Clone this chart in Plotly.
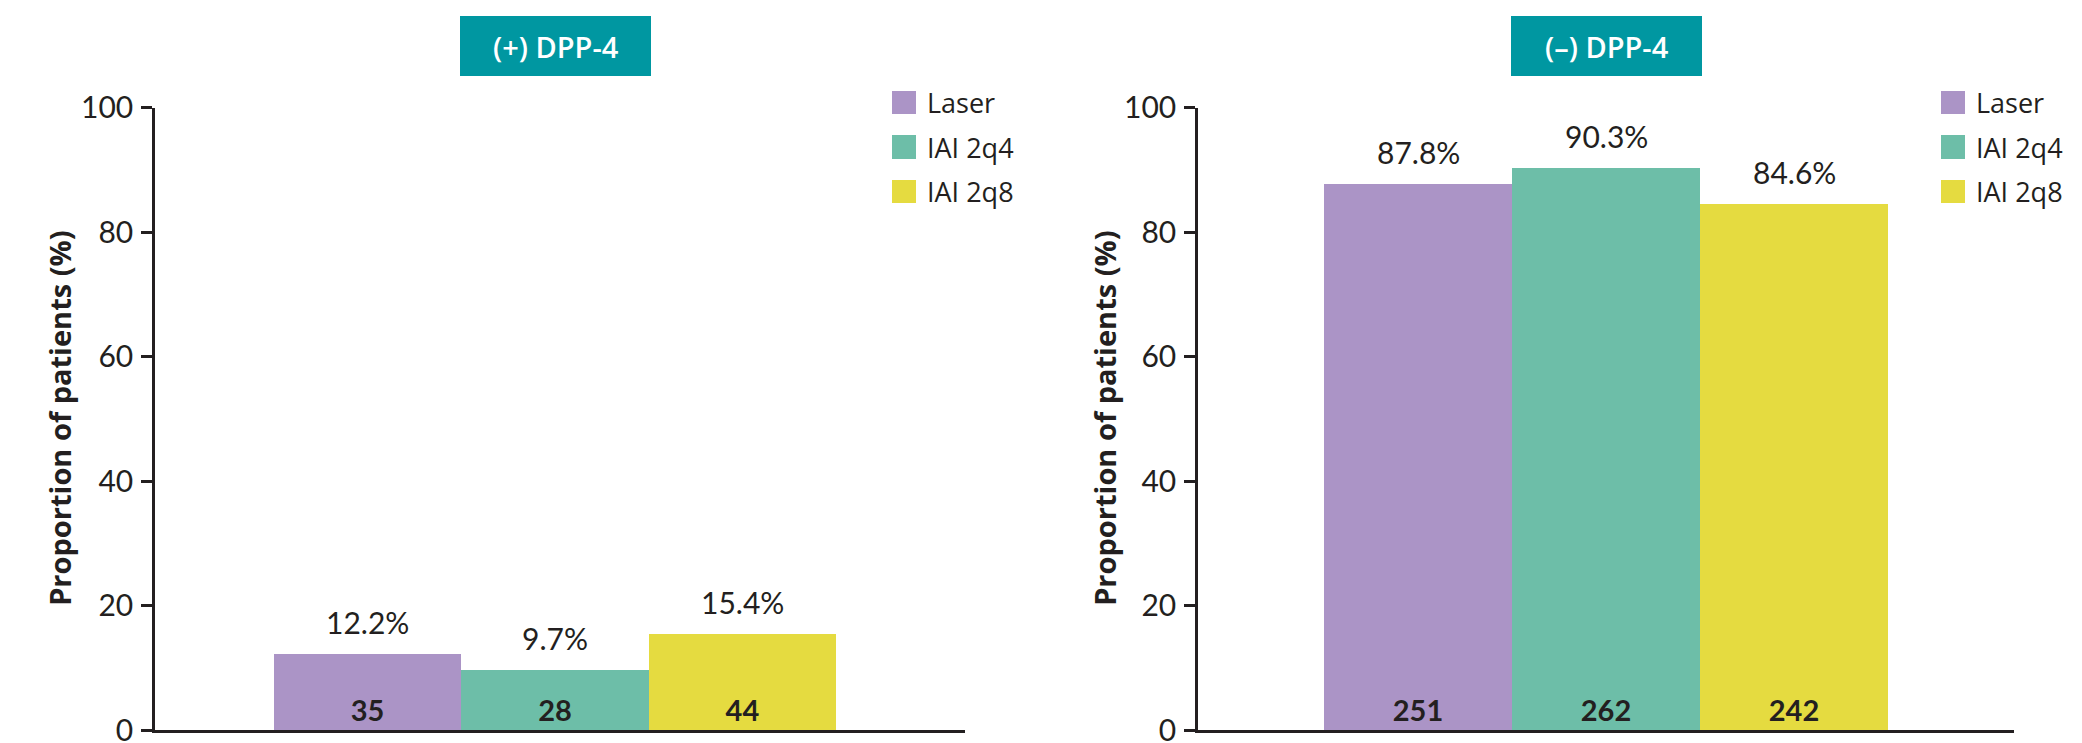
import plotly.graph_objects as go

# Data
panels = ["(+) DPP-4", "(–) DPP-4"]
series = ["Laser", "IAI 2q4", "IAI 2q8"]
pct_dpp4_pos = [12.2, 9.7, 15.4]
pct_dpp4_neg = [87.8, 90.3, 84.6]
n_dpp4_pos = [35, 28, 44]
n_dpp4_neg = [251, 262, 242]
y_ticks = [0, 20, 40, 60, 80, 100]

# Style
colors = ["#AB94C6", "#6DBEA8", "#E5DB40"]
header_color = "#0097A1"
ink = "#231F20"
num_font = "Lato, 'Open Sans', sans-serif"
txt_font = "'Open Sans', Lato, sans-serif"

W, H = 2082, 743


def px_x(p):
    return p / W


def px_y(p):
    return (H - p) / H


# Plot geometry in pixels: axis line span and where the bar group starts/ends
geom = [
    dict(ax0=155, ax1=965, b0=274, b1=836, head=(460, 651), leg=(892, 925), ytitle=60),
    dict(ax0=1198, ax1=2014, b0=1324, b1=1888, head=(1511, 1702), leg=(1941, 1974), ytitle=1105),
]
y_top_px, y_zero_px = 107.7, 730

fig = go.Figure()
annotations = []
shapes = []

data = [(pct_dpp4_pos, n_dpp4_pos), (pct_dpp4_neg, n_dpp4_neg)]
for k, (pcts, ns) in enumerate(data):
    xa = "x" if k == 0 else "x2"
    ya = "y" if k == 0 else "y2"
    g = geom[k]
    fig.add_trace(go.Bar(
        x=series, y=pcts, xaxis=xa, yaxis=ya,
        marker=dict(color=colors, line=dict(width=0)),
        text=[str(n) for n in ns],
        textposition="inside", insidetextanchor="start", textangle=0,
        insidetextfont=dict(family=num_font, size=29, color=ink, weight="bold"),
        showlegend=False, hoverinfo="skip",
    ))
    # percentage labels above each bar
    for s, v in zip(series, pcts):
        annotations.append(dict(
            x=s, y=v, xref=xa, yref=ya, text=f"{v}%", showarrow=False,
            yanchor="bottom", yshift=12,
            font=dict(family=num_font, size=30, color=ink),
        ))
    # panel header box
    h0, h1 = g["head"]
    shapes.append(dict(type="rect", xref="paper", yref="paper",
                       x0=px_x(h0), x1=px_x(h1), y0=px_y(76), y1=px_y(16),
                       fillcolor=header_color, line=dict(width=0), layer="above"))
    annotations.append(dict(
        x=px_x((h0 + h1) / 2), y=px_y(46), xref="paper", yref="paper",
        text=panels[k], showarrow=False, xanchor="center", yanchor="middle",
        font=dict(family=txt_font, size=29, color="white", weight=600),
    ))
    # y-axis title
    annotations.append(dict(
        x=px_x(g["ytitle"]), y=px_y((y_top_px + y_zero_px) / 2), xref="paper", yref="paper",
        text="<b>Proportion of patients (%)</b>", textangle=-90, showarrow=False,
        xanchor="center", yanchor="middle",
        font=dict(family=txt_font, size=29, color=ink),
    ))
    # legend
    sq0, tx = g["leg"]
    rows = [(91, 114), (135, 159), (180, 203)]
    for (t, b), name, c in zip(rows, series, colors):
        shapes.append(dict(type="rect", xref="paper", yref="paper",
                           x0=px_x(sq0), x1=px_x(sq0 + 24), y0=px_y(b), y1=px_y(t),
                           fillcolor=c, line=dict(width=0)))
        annotations.append(dict(
            x=px_x(tx), y=px_y((t + b) / 2), xref="paper", yref="paper",
            text=name, showarrow=False, xanchor="left", yanchor="middle",
            font=dict(family=txt_font, size=27, color=ink),
        ))

layout_axes = {}
for k, g in enumerate(geom):
    unit = (g["b1"] - g["b0"]) / 3
    r0 = -0.5 - (g["b0"] - g["ax0"]) / unit
    r1 = r0 + (g["ax1"] - g["ax0"]) / unit
    xname = "xaxis" if k == 0 else "xaxis2"
    yname = "yaxis" if k == 0 else "yaxis2"
    layout_axes[xname] = dict(
        domain=[px_x(g["ax0"]), px_x(g["ax1"])], range=[r0, r1],
        showline=True, linecolor=ink, linewidth=2.5,
        showticklabels=False, ticks="", showgrid=False, zeroline=False,
        anchor="y" if k == 0 else "y2", fixedrange=True, automargin=False,
    )
    layout_axes[yname] = dict(
        domain=[px_y(y_zero_px), px_y(y_top_px)], range=[0, 100],
        tickvals=y_ticks, ticks="outside", ticklen=11, tickwidth=2.5, tickcolor=ink,
        showline=True, linecolor=ink, linewidth=2.5, showgrid=False, zeroline=False,
        tickfont=dict(family=num_font, size=30, color=ink), ticklabelstandoff=2,
        ticklabeloverflow="allow", automargin=False,
        anchor="x" if k == 0 else "x2", fixedrange=True,
    )

fig.update_layout(
    width=W, height=H, margin=dict(l=0, r=0, t=0, b=0, autoexpand=False),
    paper_bgcolor="white", plot_bgcolor="white",
    barmode="group", bargap=0, bargroupgap=0,
    annotations=annotations, shapes=shapes,
    **layout_axes,
)

fig.write_html("out.html")
